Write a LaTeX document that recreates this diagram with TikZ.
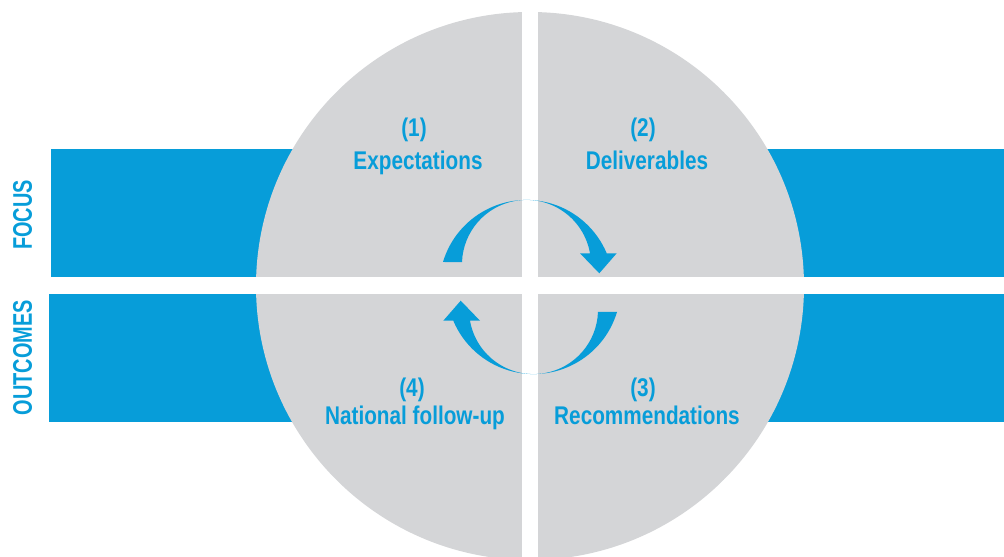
\documentclass[tikz,border=0pt]{standalone}
\usepackage{fontspec}
\setmainfont{Liberation Sans}
\newfontfamily\lblfont{Liberation Sans}[FakeStretch=0.81]
\newfontfamily\sidefont{Liberation Sans}[FakeStretch=0.74]
\definecolor{unblue}{RGB}{7,157,217}
\definecolor{ungray}{RGB}{212,213,215}
\begin{document}
\begin{tikzpicture}[x=0.75pt,y=0.75pt,
  bar/.style={fill=unblue},
  gap/.style={fill=white},
  cyc/.style={fill=unblue},
  lbl/.style={text=unblue,font=\lblfont\bfseries\fontsize{19.2}{23}\selectfont,anchor=base,inner sep=0pt},
  side/.style={text=unblue,font=\sidefont\bfseries\fontsize{20.2}{24}\selectfont,anchor=base,rotate=90,inner sep=0pt}]
\useasboundingbox (0,0) rectangle (1004,557);
\clip (0,0) rectangle (1004,557);
% bars
\fill[bar] (51,280) rectangle (1004,408);
\fill[bar] (49,134.5) rectangle (1004,263);
% circle
\fill[ungray] (530,271) circle[radius=274];
% white gaps
\fill[gap] (0,263) rectangle (1004,280);
\fill[gap] (522,0) rectangle (538,557);
% cycle arrows
\fill[cyc] (443,295) arc[start angle=163.3,end angle=22.76,radius=87.1]
  -- (616.7,303.7) -- (599.3,283.7) -- (580,303.7) -- (590,303.7)
  arc[start angle=9.92,end angle=177.9,radius=64.5] -- cycle;
\fill[cyc, rotate around={180:(530,270)}] (443,295) arc[start angle=163.3,end angle=22.76,radius=87.1]
  -- (616.7,303.7) -- (599.3,283.7) -- (580,303.7) -- (590,303.7)
  arc[start angle=9.92,end angle=177.9,radius=64.5] -- cycle;
% labels
\node[lbl] (n1) at (414,420) {(1)};
\node[lbl] (t1) at (418,387.7) {Expectations};
\node[lbl] (n2) at (643,420) {(2)};
\node[lbl] (t2) at (647,387.7) {Deliverables};
\node[lbl] (n4) at (412,160) {(4)};
\node[lbl] (t4) at (415,132) {National follow-up};
\node[lbl] (n3) at (643,160) {(3)};
\node[lbl] (t3) at (647,132) {Recommendations};
\node[side] (focus) at (32,342) {FOCUS};
\node[side] (outc) at (32,199.5) {OUTCOMES};
\end{tikzpicture}
\end{document}
